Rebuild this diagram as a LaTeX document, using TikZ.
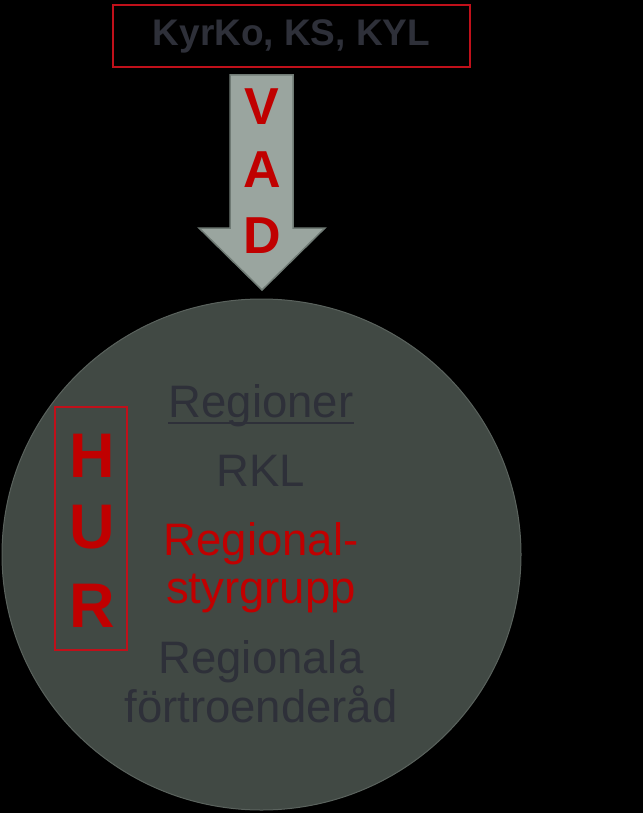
\documentclass[tikz,border=0pt]{standalone}
\usepackage{fontspec}
\setmainfont{Liberation Sans}
\usetikzlibrary{positioning,shapes.geometric}
\definecolor{ink}{HTML}{2E3039}
\definecolor{accent}{HTML}{C00000}
\definecolor{frame}{HTML}{C0101A}
\definecolor{disc}{HTML}{414944}
\definecolor{discborder}{HTML}{5A625D}
\definecolor{arrowfill}{HTML}{9AA59F}
\definecolor{arrowborder}{HTML}{6F7A74}
\tikzset{
  topbox/.style={draw=frame,fill=black,line width=2pt,minimum width=357pt,minimum height=62pt,inner sep=0pt,text=ink,font=\bfseries\fontsize{37}{37}\selectfont},
  hurbox/.style={draw=frame,line width=1.2pt,minimum width=72pt,minimum height=243pt,inner sep=0pt},
  bigletter/.style={anchor=base,text=accent,font=\bfseries\fontsize{#1}{#1}\selectfont},
  line/.style={anchor=base,font=\fontsize{45.5}{45.5}\selectfont,text=ink,inner sep=0pt}
}
\begin{document}
\begin{tikzpicture}[x=1pt,y=-1pt]
  \fill[black] (0,0) rectangle (643,813);
  \useasboundingbox (0,0) rectangle (643,813);

  \node[topbox] (org) at (291.5,36) {KyrKo, KS, KYL};

  % block arrow VAD
  \coordinate (tip) at (262,290);
  \draw[draw=arrowborder,fill=arrowfill,line width=1.5pt,line join=miter]
    (230,75) -- (293,75) -- (293,228) -- (325,228) -- (tip) -- (199,228) -- (230,228) -- cycle;
  \node[bigletter=52] (v) at (262,125) {V};
  \node[bigletter=52] (a) at (262,188) {A};
  \node[bigletter=52] (d) at (262,253) {D};

  \node[ellipse,draw=discborder,fill=disc,line width=1pt,minimum width=519pt,minimum height=511pt,inner sep=0pt]
    (region) at (261.5,554.5) {};

  \node[hurbox] (hur) at (91,528.5) {};
  \node[bigletter=63] (h) at (92,477) {H};
  \node[bigletter=63] (u) at (92,548) {U};
  \node[bigletter=63] (r) at (92,627) {R};

  \node[line] (regioner) at (261,417) {Regioner};
  \draw[ink,line width=2.5pt] ([yshift=-6pt]regioner.base west) -- ([yshift=-6pt]regioner.base east);
  \node[line] (rkl) at (261,486) {RKL};
  \node[line,text=accent] (styr1) at (261,555) {Regional-};
  \node[line,text=accent] (styr2) at (261,603) {styrgrupp};
  \node[line] (fort1) at (261,673) {Regionala};
  \node[line] (fort2) at (261,722) {förtroenderåd};
\end{tikzpicture}
\end{document}
